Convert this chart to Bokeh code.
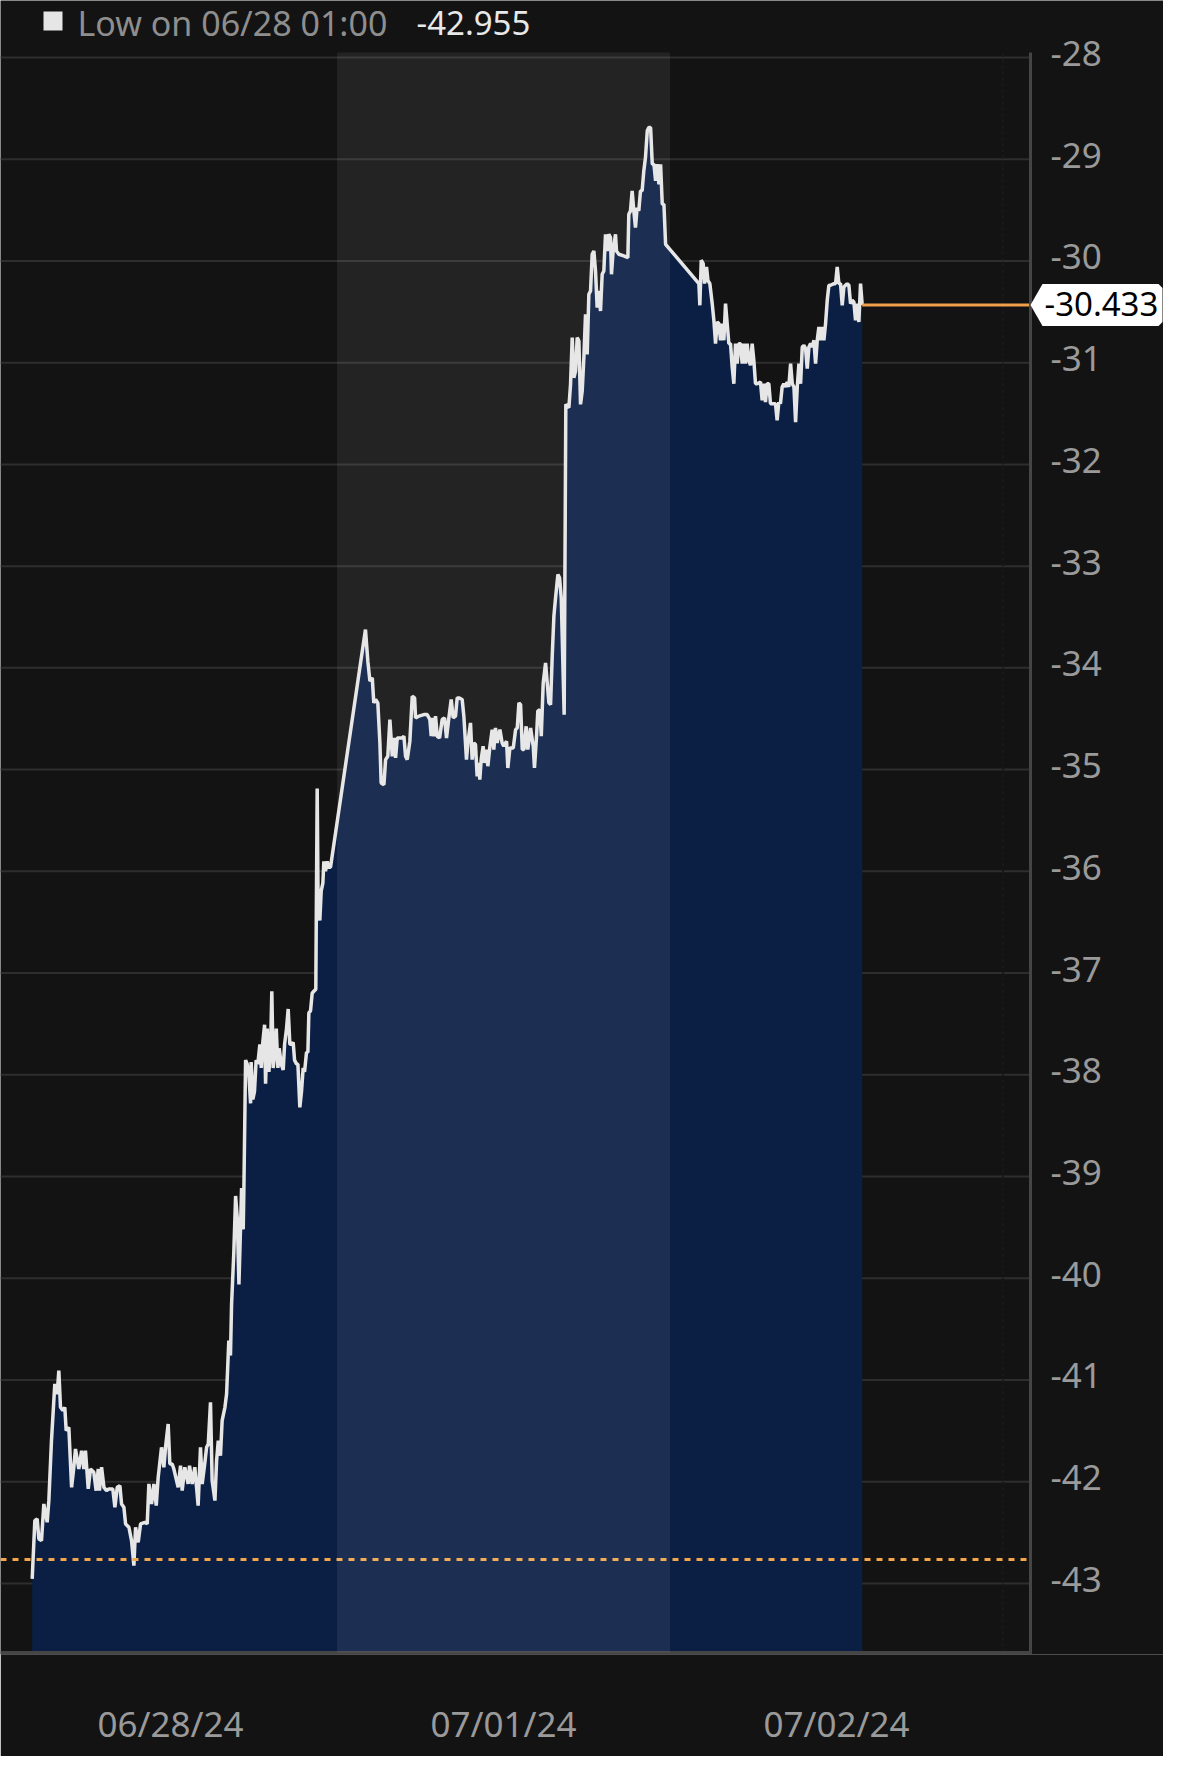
from bokeh.plotting import figure
from bokeh.models import Range1d, FixedTicker, BoxAnnotation, PolyAnnotation, Label
from bokeh.core.properties import value
from bokeh.embed import file_html
from bokeh.resources import INLINE

# ---- data (hours on a session axis: 06/28 = 0-24, 07/01 = 24-48, 07/02 = 48-72) ----
jun28_hours = [2.03, 2.22, 2.39, 2.51, 2.70, 2.87, 3.11, 3.23, 3.42, 3.66, 3.83, 3.95, 4.07, 4.24, 4.38, 4.48,
               4.67, 4.87, 5.03, 5.15, 5.39, 5.59, 5.75, 5.87, 6.07, 6.23, 6.47, 6.64, 6.79, 6.88, 7.03, 7.20,
               7.39, 7.56, 7.84, 7.99, 8.16, 8.35, 8.47, 8.64, 8.76, 9.00, 9.19, 9.36, 9.48, 9.67, 9.84, 10.15,
               10.32, 10.44, 10.63, 10.80, 10.97, 11.11, 11.35, 11.52, 11.64, 11.83, 11.95, 12.12, 12.24, 12.55,
               12.72, 12.84, 13.03, 13.27, 13.37, 13.56, 13.75, 13.99, 14.16, 14.28, 14.45, 14.60, 14.72, 14.88,
               15.00, 15.20, 15.32, 15.44, 15.60, 15.72, 15.92, 16.04, 16.20,
               16.32, 16.40, 16.56, 16.69, 16.81, 16.93, 17.05, 17.12, 17.24, 17.29, 17.41, 17.53, 17.65, 17.77,
               17.81, 17.93, 18.05, 18.17, 18.29, 18.44, 18.54, 18.65, 18.78, 18.85, 18.97, 19.09, 19.21, 19.30,
               19.40, 19.52, 19.62, 19.74, 19.83, 19.98, 20.12, 20.22, 20.36, 20.48, 20.60, 20.70, 20.84, 20.94,
               21.08, 21.18, 21.32, 21.44, 21.56, 21.66, 21.80, 21.90, 21.97, 22.09, 22.21, 22.33, 22.47, 22.57,
               22.64, 22.76, 22.86, 22.98, 23.05, 23.17, 23.29, 23.41, 23.53]
jun28_values = [-42.955, -42.383, -42.366, -42.563, -42.579, -42.219, -42.399, -42.186, -41.596, -41.039, -41.138,
                -40.908, -41.269, -41.301, -41.269, -41.498, -41.465, -42.055, -41.858, -41.678, -41.875, -41.695,
                -41.875, -41.695, -42.071, -41.875, -41.908, -42.088, -41.875, -42.088, -41.858, -42.055, -42.088,
                -42.071, -42.071, -42.252, -42.055, -42.039, -42.219, -42.252, -42.415, -42.448, -42.579, -42.825,
                -42.448, -42.596, -42.415, -42.399, -42.415, -42.022, -42.219, -42.022, -42.235, -41.957, -41.662,
                -41.858, -41.662, -41.433, -41.826, -41.826, -41.875, -42.055, -41.842, -42.088, -41.858, -42.022,
                -41.842, -42.022, -41.858, -42.235, -41.662, -42.022, -41.842, -41.662, -41.629, -41.220, -41.990,
                -42.186, -41.793, -41.596, -41.744, -41.400, -41.269, -41.138, -40.613,
                -40.759, -40.255, -39.752, -39.191, -39.404, -40.062, -39.481, -39.114, -39.520, -39.094, -37.856,
                -37.895, -38.011, -38.282, -37.875, -38.243, -38.166, -37.856, -37.895, -37.701, -37.933, -37.682,
                -37.508, -38.088, -37.546, -37.972, -37.740, -37.179, -37.933, -37.779, -37.546, -37.933, -37.740,
                -37.895, -37.953, -37.701, -37.546, -37.353, -37.701, -37.701, -37.682, -37.856, -37.895, -37.895,
                -38.320, -38.166, -37.933, -37.972, -37.779, -37.779, -37.392, -37.372, -37.198, -37.179, -37.159,
                -35.186, -36.385, -36.482, -36.192, -36.115, -35.902, -35.998, -35.902, -35.960, -35.960]

jul01_hours = [26.05, 26.22, 26.37, 26.54, 26.65, 26.78, 26.94, 27.09, 27.18, 27.38, 27.50, 27.66, 27.81, 27.98,
               28.10, 28.22, 28.34, 28.70, 28.82, 28.94, 29.06, 29.25, 29.42, 29.59, 29.66, 29.90, 30.26, 30.50,
               30.69, 30.79, 30.86, 30.98, 31.10, 31.22, 31.39, 31.58, 31.75, 31.89, 32.06, 32.23, 32.37, 32.54,
               32.66, 32.78, 33.02, 33.14, 33.33, 33.43, 33.62, 33.74, 33.86, 33.98, 34.10, 34.22, 34.29, 34.39,
               34.53, 34.63, 34.78, 34.87, 35.02, 35.18, 35.30, 35.42, 35.54, 35.74, 35.90, 36.02, 36.22, 36.31,
               36.46, 36.70, 36.87, 36.99, 37.11, 37.23, 37.35, 37.47, 37.63, 37.75, 37.95, 38.14, 38.23, 38.38,
               38.47, 38.62, 38.72, 38.86, 39.03, 39.15, 39.27, 39.39, 39.51, 39.63, 39.75, 39.92, 40.04, 40.16,
               40.37, 40.49, 40.71, 40.83, 40.95, 41.07, 41.19, 41.31, 41.43, 41.55, 41.67, 41.79, 41.91, 42.03,
               42.15, 42.27, 42.39, 42.51, 42.63, 42.75, 42.87, 42.99, 43.11, 43.23, 43.35, 43.47, 43.59, 43.71,
               43.78, 43.90, 44.07, 44.14, 44.31, 44.67, 44.96, 45.03, 45.15, 45.27, 45.39, 45.51, 45.63, 45.75,
               45.87, 45.99, 46.11, 46.23, 46.36, 46.47, 46.60, 46.72, 46.84, 46.96, 47.08, 47.20, 47.32, 47.44,
               47.56, 47.68]
jul01_values = [-33.623, -33.934, -34.131, -34.098, -34.344, -34.311, -34.344, -34.738, -35.131, -35.148, -34.902,
                -34.869, -34.508, -34.869, -34.689, -34.885, -34.689, -34.689, -34.672, -34.869, -34.902, -34.721,
                -34.279, -34.295, -34.492, -34.475, -34.459, -34.459, -34.508, -34.672, -34.492, -34.672, -34.475,
                -34.672, -34.689, -34.508, -34.492, -34.689, -34.492, -34.311, -34.492, -34.475, -34.295, -34.295,
                -34.311, -34.475, -34.902, -34.738, -34.541, -34.902, -34.738, -34.754, -35.066, -34.934, -35.098,
                -34.902, -34.770, -34.934, -34.803, -34.967, -34.770, -34.607, -34.803, -34.590, -34.738, -34.607,
                -34.738, -34.770, -34.721, -34.984, -34.787, -34.787, -34.607, -34.590, -34.344, -34.361, -34.803,
                -34.803, -34.574, -34.803, -34.590, -34.770, -34.984, -34.672, -34.426, -34.410, -34.672, -34.148,
                -33.951, -34.148, -34.344, -34.361, -33.885, -33.492, -33.311, -33.082, -33.115, -33.311, -34.460,
                -31.410, -31.443, -31.213, -30.754, -31.148, -31.082, -30.754, -30.787, -31.410, -31.279, -30.951,
                -30.525, -30.918, -30.328, -30.295, -29.934, -29.902, -30.098, -30.459, -30.295, -30.492, -30.131,
                -30.098, -29.738, -29.902, -29.738, -29.770, -30.131, -29.902, -29.738, -29.902, -29.934, -29.951,
                -29.967, -29.541, -29.508, -29.311, -29.508, -29.672, -29.475, -29.508, -29.311, -29.311, -29.115,
                -28.984, -28.721, -28.689, -28.689, -29.049, -29.049, -29.213, -29.049, -29.246, -29.049, -29.443,
                -29.443, -29.836]

jul02_hours = [50.08, 50.15, 50.25, 50.39, 50.49, 50.63, 50.73, 50.87, 51.04, 51.16, 51.28, 51.40, 51.52, 51.64,
               51.76, 51.88, 52.00, 52.12, 52.24, 52.36, 52.48, 52.60, 52.72, 52.84, 52.96, 53.08, 53.20, 53.32,
               53.44, 53.56, 53.68, 53.80, 53.92, 54.04, 54.16, 54.28, 54.52, 54.64, 54.76, 54.88, 55.00, 55.12,
               55.24, 55.60, 55.72, 55.84, 55.96, 56.08, 56.20, 56.32, 56.44, 56.56, 56.69, 56.81, 56.93, 57.05,
               57.17, 57.29, 57.41, 57.53, 57.65, 57.77, 57.89, 58.01, 58.13, 58.25, 58.37, 58.49, 58.61, 58.73,
               58.85, 58.97, 59.09, 59.21, 59.33, 59.45, 59.57, 59.81, 59.93, 60.05, 60.17, 60.29, 60.41, 60.53,
               60.65, 60.77, 60.89, 61.01, 61.13, 61.25, 61.37, 61.49, 61.61, 61.73, 61.85]
jul02_values = [-30.223, -30.436, -29.993, -30.026, -30.223, -30.059, -30.190, -30.223, -30.420, -30.584, -30.813,
                -30.600, -30.616, -30.780, -30.616, -30.780, -30.420, -30.616, -30.813, -30.813, -31.043, -31.207,
                -30.813, -31.010, -30.813, -30.813, -31.010, -30.813, -31.010, -30.813, -30.977, -31.026, -30.813,
                -30.977, -31.207, -31.207, -31.190, -31.370, -31.207, -31.387, -31.207, -31.207, -31.403, -31.403,
                -31.567, -31.387, -31.403, -31.239, -31.207, -31.239, -31.190, -31.239, -31.010, -31.207, -31.239,
                -31.584, -31.239, -31.010, -31.207, -30.846, -30.830, -30.862, -31.059, -30.846, -30.813, -30.846,
                -30.780, -31.010, -30.780, -30.649, -30.780, -30.649, -30.780, -30.616, -30.387, -30.239, -30.239,
                -30.223, -30.223, -30.059, -30.223, -30.223, -30.436, -30.256, -30.239, -30.223, -30.239, -30.420,
                -30.387, -30.403, -30.584, -30.420, -30.600, -30.223, -30.433]

day_centers = [12, 36, 60]
day_labels = ["06/28/24", "07/01/24", "07/02/24"]
y_ticks = [-43, -42, -41, -40, -39, -38, -37, -36, -35, -34, -33, -32, -31, -30, -29, -28]
y_tick_labels = ["-43", "-42", "-41", "-40", "-39", "-38", "-37", "-36", "-35", "-34", "-33", "-32",
                 "-31", "-30", "-29", "-28"]
low_label = "Low on 06/28 01:00"
low_value = -42.955
last_value = -30.433
ref_level = -42.765
band_start, band_end = 24, 48
session_end = 72
axis_end = 73.98          # right edge of the plotting area (value axis line)
y_top, y_bottom = -27.951, -43.678

hours = jun28_hours + jul01_hours + jul02_hours
values = jun28_values + jul01_values + jul02_values

# ---- layout (frame covers the whole width and the top, value axis drawn by hand) ----
W, H = 1163, 1756
FH = 1654                      # frame height; bottom border holds the date axis
PX_H = 333 / 24                # pixels per hour
PX_V = 101.73                  # pixels per unit of value
sx, sy = 1 / PX_H, 1 / PX_V
X0 = axis_end - 1030 * sx
X1 = X0 + W * sx
Y0 = y_top - (FH - 52) * sy
Y1 = y_top + 52 * sy

FONT = "Noto Sans"
BG = "#131313"

p = figure(width=W, height=H, x_range=Range1d(X0, X1), y_range=Range1d(Y0, Y1),
           output_backend="svg", toolbar_location=None,
           min_border_left=0, min_border_right=0, min_border_top=0, min_border_bottom=H - FH)
p.background_fill_color = BG
p.border_fill_color = BG
p.outline_line_color = None
p.yaxis.visible = False
p.grid.visible = False

xa = p.xaxis[0]
xa.ticker = FixedTicker(ticks=day_centers)
xa.major_label_overrides = {c: l for c, l in zip(day_centers, day_labels)}
xa.axis_line_color = None
xa.major_tick_line_color = None
xa.minor_tick_line_color = None
xa.major_tick_out = 0
xa.major_tick_in = 0
xa.major_label_standoff = 45
xa.major_label_text_color = "#9a9a9a"
xa.major_label_text_font = FONT
xa.major_label_text_font_size = "35px"

# horizontal grid lines (stop at the value axis)
p.segment(x0=X0, x1=axis_end, y0=y_ticks, y1=y_ticks, line_color="#2e2e2e", line_width=2)

# area + line
p.varea(x=hours, y1=y_bottom, y2=values, fill_color="#0b1f45")
p.line(hours, values, line_color="#e6e6e6", line_width=3.5)

# highlighted session band and session end marker
p.add_layout(BoxAnnotation(left=band_start, right=band_end, top=y_top, bottom=y_bottom,
                           fill_color="white", fill_alpha=0.07, line_color=None))
p.segment(x0=session_end, x1=session_end, y0=y_bottom, y1=y_top, line_color="#191919",
          line_width=2, line_dash="3 3")

# reference level (dotted) and last value line
p.segment(x0=X0, x1=axis_end, y0=ref_level, y1=ref_level, line_color="#f2a74c",
          line_width=3, line_dash="6 6")
p.line([hours[-1], axis_end], [last_value, last_value], line_color="#f0a04b", line_width=3)

# axis lines (bottom and right value axis)
p.segment(x0=X0, x1=axis_end + 1.5 * sx, y0=y_bottom, y1=y_bottom, line_color="#454545", line_width=3)
p.segment(x0=axis_end, x1=axis_end, y0=y_bottom, y1=y_top, line_color="#454545", line_width=3)

# value axis labels (sit a little above their grid line, as in the source)
p.text(x=axis_end + 20 * sx, y=[t + 4 * sy for t in y_ticks], text=y_tick_labels,
       text_baseline="middle", text_align="left",
       text_color="#9a9a9a", text_font=value(FONT), text_font_size="35px")

# last value tag on the axis
tx = [axis_end, axis_end + 12 * sx, axis_end + 128 * sx, axis_end + 132 * sx, axis_end + 132 * sx,
      axis_end + 128 * sx, axis_end + 12 * sx]
ty = [last_value, last_value + 21 * sy, last_value + 21 * sy, last_value + 17 * sy,
      last_value - 17 * sy, last_value - 21 * sy, last_value - 21 * sy]
p.add_layout(PolyAnnotation(xs=tx, ys=ty, fill_color="white", fill_alpha=1.0, line_color=None))
p.add_layout(Label(x=axis_end + 14 * sx, y=last_value + 1 * sy, text=f"{last_value:.3f}",
                   text_baseline="middle", text_align="left", text_color="black",
                   text_font=FONT, text_font_size="33px"))

# legend (low marker)
p.add_layout(BoxAnnotation(left=X0 + 43 * sx, right=X0 + 62 * sx, top=Y1 - 11 * sy, bottom=Y1 - 30 * sy,
                           fill_color="#e6e6e6", fill_alpha=1.0, line_color=None))
p.add_layout(Label(x=X0 + 77 * sx, y=Y1 - 22 * sy, text=low_label, text_baseline="middle",
                   text_align="left", text_color="#8e8e8e", text_font=FONT, text_font_size="34px"))
p.add_layout(Label(x=X0 + 416 * sx, y=Y1 - 22 * sy, text=f"{low_value:.3f}", text_baseline="middle",
                   text_align="left", text_color="#e8e8e8", text_font=FONT, text_font_size="33px"))

open("out.html", "w").write(file_html(p, INLINE))
